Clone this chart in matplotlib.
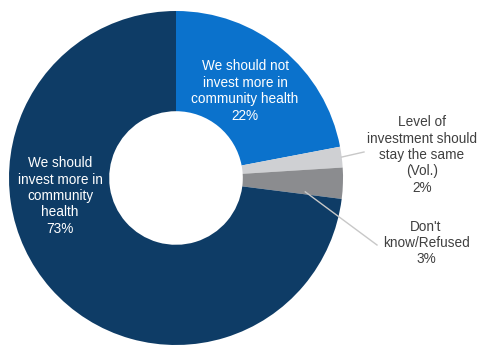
import numpy as np
import matplotlib
matplotlib.use("Agg")
import matplotlib.pyplot as plt

plt.rcParams['font.family'] = ['Liberation Sans', 'DejaVu Sans']

categories = ["We should not\ninvest more in\ncommunity health",
              "Level of\ninvestment should\nstay the same\n(Vol.)",
              "Don't\nknow/Refused",
              "We should\ninvest more in\ncommunity\nhealth"]
values = [22, 2, 3, 73]
colors = ["#0b72cc", "#cfd0d3", "#8b8c8f", "#0e3c66"]

W, H = 482, 346
fig = plt.figure(figsize=(W / 100, H / 100), dpi=100)
ax = fig.add_axes([0, 0, 1, 1])

cx, cy, R = 176, H - 178, 167
wedges, _ = ax.pie(values, colors=colors, startangle=90, counterclock=False,
                   center=(cx, cy), radius=R, frame=True,
                   wedgeprops=dict(width=R * 0.6, edgecolor='none'))
ax.set_xlim(0, W)
ax.set_ylim(0, H)
ax.axis('off')

fs = 9.8
ls = 1.22
lab = [f"{c}\n{v}%" for c, v in zip(categories, values)]
ax.text(245, H - 91, lab[0], color='white', ha='center', va='center', fontsize=fs, linespacing=ls)
ax.text(60, H - 196, lab[3], color='white', ha='center', va='center', fontsize=fs, linespacing=ls)
ax.text(422, H - 155, lab[1], color='#404040', ha='center', va='center', fontsize=fs, linespacing=ls)
ax.text(426, H - 243, lab[2], color='#404040', ha='center', va='center', fontsize=fs, linespacing=ls)

# leader lines from slices
cum = np.cumsum([0] + values)
def mid_pt(i, r, frac=0.5):
    ang = np.deg2rad(90 - (cum[i] + values[i] * frac) / 100 * 360)
    return cx + r * np.cos(ang), cy + r * np.sin(ang)

p1 = mid_pt(1, R)
ax.plot([p1[0], 364], [p1[1], H - 152], color='#c8c8c8', lw=1.0)
p2 = mid_pt(2, 130, 0.9)
ax.plot([p2[0], 377], [p2[1], H - 245], color='#c8c8c8', lw=1.0)

fig.savefig("out.png", dpi=100)
